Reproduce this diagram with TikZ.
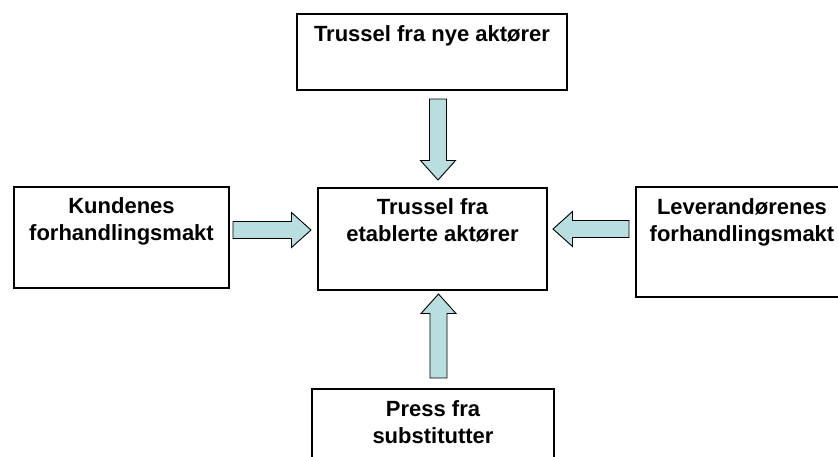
\documentclass[tikz,border=0pt]{standalone}
\usepackage{fontspec}
\setmainfont{Liberation Sans}
\usetikzlibrary{calc}
\definecolor{arrowfill}{RGB}{184,222,224}
\begin{document}
\begin{tikzpicture}[x=1pt,y=-1pt,
  box/.style={draw=black, line width=1.8pt, fill=white, rectangle, inner sep=0pt, outer sep=0pt, anchor=north west},
  lbl/.style={font=\bfseries\fontsize{22}{27}\selectfont, align=center, inner sep=0pt, anchor=north},
  blockarrow/.style={draw=black, line width=0.9pt, fill=arrowfill, line join=miter,
    to path={($(\tikztostart)!8.5pt!90:(\tikztotarget)$)
      -- ($(\tikztotarget)!19.5pt!(\tikztostart)!8.5pt!-90:(\tikztostart)$)
      -- ($(\tikztotarget)!19.5pt!(\tikztostart)!17.5pt!-90:(\tikztostart)$)
      -- (\tikztotarget)
      -- ($(\tikztotarget)!19.5pt!(\tikztostart)!17.5pt!90:(\tikztostart)$)
      -- ($(\tikztotarget)!19.5pt!(\tikztostart)!8.5pt!90:(\tikztostart)$)
      -- ($(\tikztostart)!8.5pt!-90:(\tikztotarget)$) -- cycle}}]
\useasboundingbox (0,0) rectangle (838,456);
\clip (0,0) rectangle (838,456);

% boxes
\node[box, minimum width=270pt, minimum height=76pt] (nye) at (297,14) {};
\node[box, minimum width=229pt, minimum height=102pt] (etab) at (318,188) {};
\node[box, minimum width=215pt, minimum height=101pt] (kunde) at (14,187) {};
\node[box, minimum width=212pt, minimum height=110pt] (lev) at (636,187) {};
\node[box, minimum width=242pt, minimum height=90pt] (subst) at (312,389) {};

% labels
\node[lbl] (nyeT) at ($(nye.north)+(0,11)$) {Trussel fra nye aktører};
\node[lbl] (etabT) at ($(etab.north)+(0,10)$) {Trussel fra\\etablerte aktører};
\node[lbl] (kundeT) at ($(kunde.north)+(0,10)$) {Kundenes\\forhandlingsmakt};
\node[lbl] (levT) at ($(lev.north)+(0,11)$) {Leverandørenes\\forhandlingsmakt};
\node[lbl] (substT) at ($(subst.north)+(0,11)$) {Press fra\\substitutter};

% arrow end points
\coordinate (dS) at ($(nye.south)+(6,9)$);
\coordinate (dT) at ($(etab.north)+(5.5,-8)$);
\coordinate (uS) at ($(subst.north)+(5.5,-11)$);
\coordinate (uT) at ($(etab.south)+(6,4)$);
\coordinate (rS) at ($(kunde.east)+(4,-7.5)$);
\coordinate (rT) at ($(etab.west)+(-7,-9)$);
\coordinate (lS) at ($(lev.west)+(-7,-13)$);
\coordinate (lT) at ($(etab.east)+(6,-10)$);

\draw[blockarrow] (dS) to (dT);
\draw[blockarrow] (uS) to (uT);
\draw[blockarrow] (rS) to (rT);
\draw[blockarrow] (lS) to (lT);
\end{tikzpicture}
\end{document}
